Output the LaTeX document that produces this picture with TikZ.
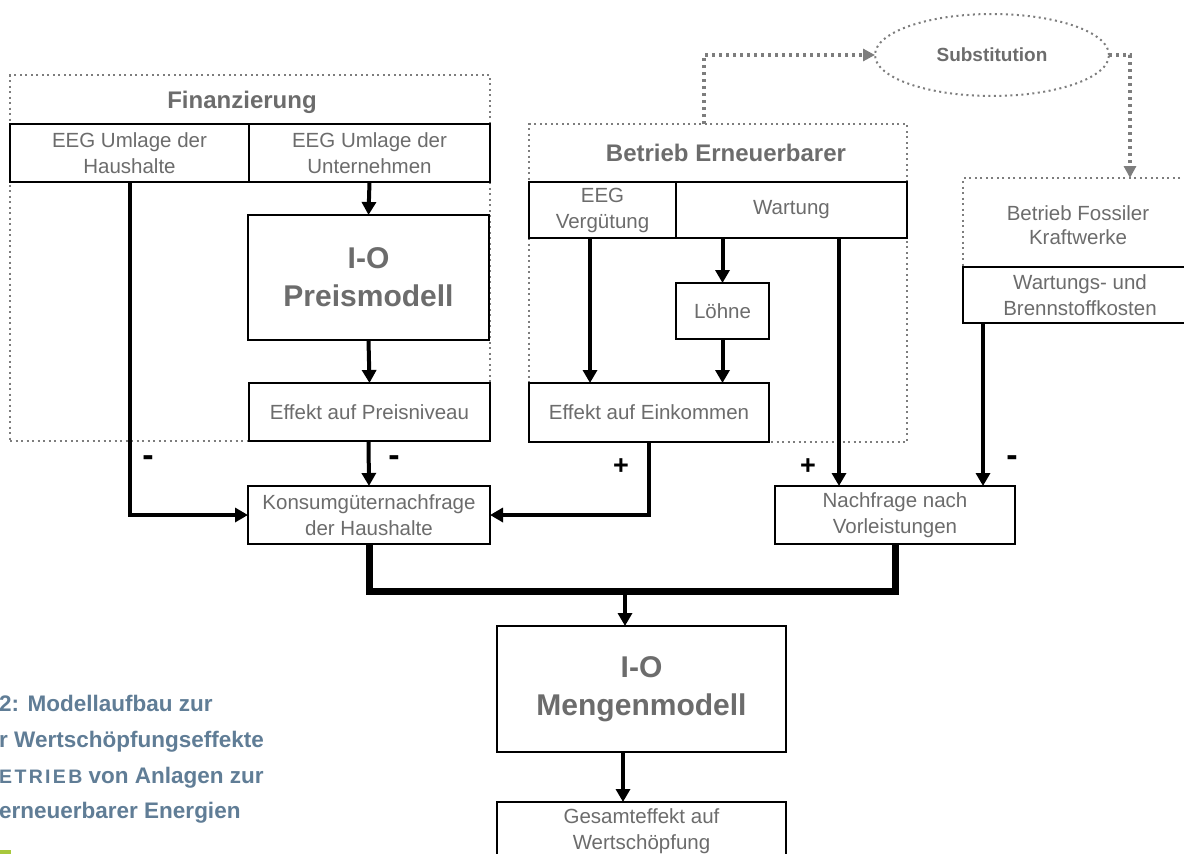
\documentclass[tikz,border=0pt]{standalone}
\usepackage{fontspec}
\setmainfont{Liberation Sans}
\usetikzlibrary{positioning, calc, arrows.meta, shapes.geometric}
\definecolor{txtgray}{RGB}{108,108,108}
\definecolor{dotgray}{RGB}{125,125,125}
\definecolor{capblue}{RGB}{96,125,150}
\definecolor{markgreen}{RGB}{168,200,60}
\tikzset{
	box/.style={draw, line width=2.8pt, fill=white, align=center, text=txtgray, font=\fontsize{20.5}{26}\selectfont, inner sep=0pt, outer sep=0pt},
	bigbox/.style={box, font=\fontsize{30}{38}\selectfont\bfseries},
	group/.style={draw=dotgray, line width=2pt, dash pattern=on 2pt off 3.5pt, inner sep=0pt, outer sep=0pt},
	grouptitle/.style={text=txtgray, font=\fontsize{24}{28}\selectfont\bfseries},
	flow/.style={-{Triangle[length=13pt,width=14pt]}, line width=4pt},
	merge/.style={line width=7pt},
	subflow/.style={-{Triangle[length=12pt,width=12pt]}, draw=dotgray, line width=3.5pt, dash pattern=on 3pt off 4pt},
	sign/.style={font=\fontsize{27}{27}\selectfont\bfseries},
	minus/.style={font=\fontsize{34}{34}\selectfont\bfseries},
	caption/.style={anchor=west, text=capblue, font=\fontsize{22.5}{27}\selectfont\bfseries, inner sep=0pt}
}
\begin{document}
\begin{tikzpicture}[>=Stealth, x=1pt, y=-1pt]
		\useasboundingbox (0,0) rectangle (1184,854);
		\clip (0,0) rectangle (1184,854);
		
		% Groups
		\node[group, minimum width=480pt, minimum height=366pt] (fin) at (250,258) {};
		\node[group, minimum width=378pt, minimum height=318pt] (ber) at (718,283) {};
		\node[group, minimum width=267pt, minimum height=145pt] (fos) at (1096.5,250.5) {};
		\node[group, ellipse, minimum width=234pt, minimum height=82pt, text=txtgray, font=\fontsize{19}{22}\selectfont\bfseries] (subst) at (992,55) {Substitution};
		
		% Group titles
		\node[grouptitle] (fintitle) at (242,102) {Finanzierung};
		\node[grouptitle] (bertitle) at (726,153) {Betrieb Erneuerbarer};
		\node[text=txtgray, align=center, font=\fontsize{20.5}{24}\selectfont] (fostitle) at (1078,225) {Betrieb Fossiler\\Kraftwerke};
		
		% Nodes
		\node[box, minimum width=239pt, minimum height=58pt] (ehh) at (129.5,153) {EEG Umlage der\\Haushalte};
		\node[box, minimum width=241pt, minimum height=58pt, right=0pt of ehh] (euu) {EEG Umlage der\\Unternehmen};
		\node[bigbox, minimum width=241pt, minimum height=125pt] (pm) at (368.5,277.5) {I-O\\Preismodell};
		\node[box, minimum width=241pt, minimum height=58pt] (epn) at (369.5,412) {Effekt auf Preisniveau};
		\node[box, minimum width=147pt, minimum height=56pt] (eegv) at (602.5,210) {EEG\\Vergütung};
		\node[box, minimum width=231pt, minimum height=56pt, right=0pt of eegv] (wart) {Wartung};
		\node[box, minimum width=93pt, minimum height=56pt] (loehne) at (722.5,311) {Löhne};
		\node[box, minimum width=240pt, minimum height=59pt] (eek) at (649,412.5) {Effekt auf Einkommen};
		\node[box, minimum width=234pt, minimum height=56pt] (wbk) at (1080,295) {Wartungs- und\\Brennstoffkosten};
		\node[box, minimum width=242pt, minimum height=58pt] (konsum) at (369,515) {Konsumgüternachfrage\\der Haushalte};
		\node[box, minimum width=240pt, minimum height=58pt] (nvl) at (895,515) {Nachfrage nach\\Vorleistungen};
		\node[bigbox, minimum width=289pt, minimum height=126pt] (mm) at (641.5,689) {I-O\\Mengenmodell};
		\node[box, minimum width=289pt, minimum height=58pt] (gw) at (641.5,831) {Gesamteffekt auf\\Wertschöpfung};
		\coordinate (join) at (625,591);
		
		% Signs
		\node[minus] (s1) at (148,461) {-};
		\node[minus] (s2) at (394,461) {-};
		\node[sign] (s3) at (621,467) {+};
		\node[sign] (s4) at (808,467) {+};
		\node[minus] (s5) at (1012,461) {-};
		
		% Substitution arrows
		\draw[subflow] ([xshift=-14pt]ber.north) |- (subst.west);
		\draw[subflow] (subst.east) -| ([xshift=33.5pt]fos.north);
		
		% Financing arrows
		\draw[flow] (ehh.south) |- (konsum.west);
		\draw[flow] (euu.south) -- (pm.north);
		\draw[flow] (pm.south) -- (epn.north);
		\draw[flow] ([xshift=-1pt]epn.south) -- (konsum.north);
		
		% Operation arrows
		\draw[flow] ([xshift=-12.5pt]eegv.south) -- ([xshift=-12.5pt]eegv.south |- eek.north);
		\draw[flow] (loehne.north |- wart.south) -- (loehne.north);
		\draw[flow] (loehne.south) -- (loehne.south |- eek.north);
		\draw[flow] (eek.south) |- (konsum.east);
		\draw[flow] ([xshift=47.5pt]wart.south) -- ([xshift=47.5pt]wart.south |- nvl.north);
		\draw[flow] ([xshift=20pt]wbk.south west) -- ([xshift=20pt]wbk.south west |- nvl.north);
		
		% Merge into quantity model
		\draw[merge] (konsum.south) |- (join) -| (nvl.south);
		\draw[flow] (join) -- (join |- mm.north);
		\draw[flow] ([xshift=-2pt]join |- mm.south) -- ([xshift=-2pt]join |- gw.north);
		
		% Caption
		\node[caption] (cap1) at (-1,703) {2: Modellaufbau zur};
		\node[caption] (cap2) at (-1,742) {r Wertschöpfungseffekte};
		\node[caption] (cap3) at (-1,778) {{\fontsize{19.5}{27}\selectfont\addfontfeature{LetterSpace=12}ETRIEB} von Anlagen zur};
		\node[caption] (cap4) at (-1,813) {erneuerbarer Energien};
		\fill[markgreen] (0,850) rectangle (11,854);
	\end{tikzpicture}
\end{document}
